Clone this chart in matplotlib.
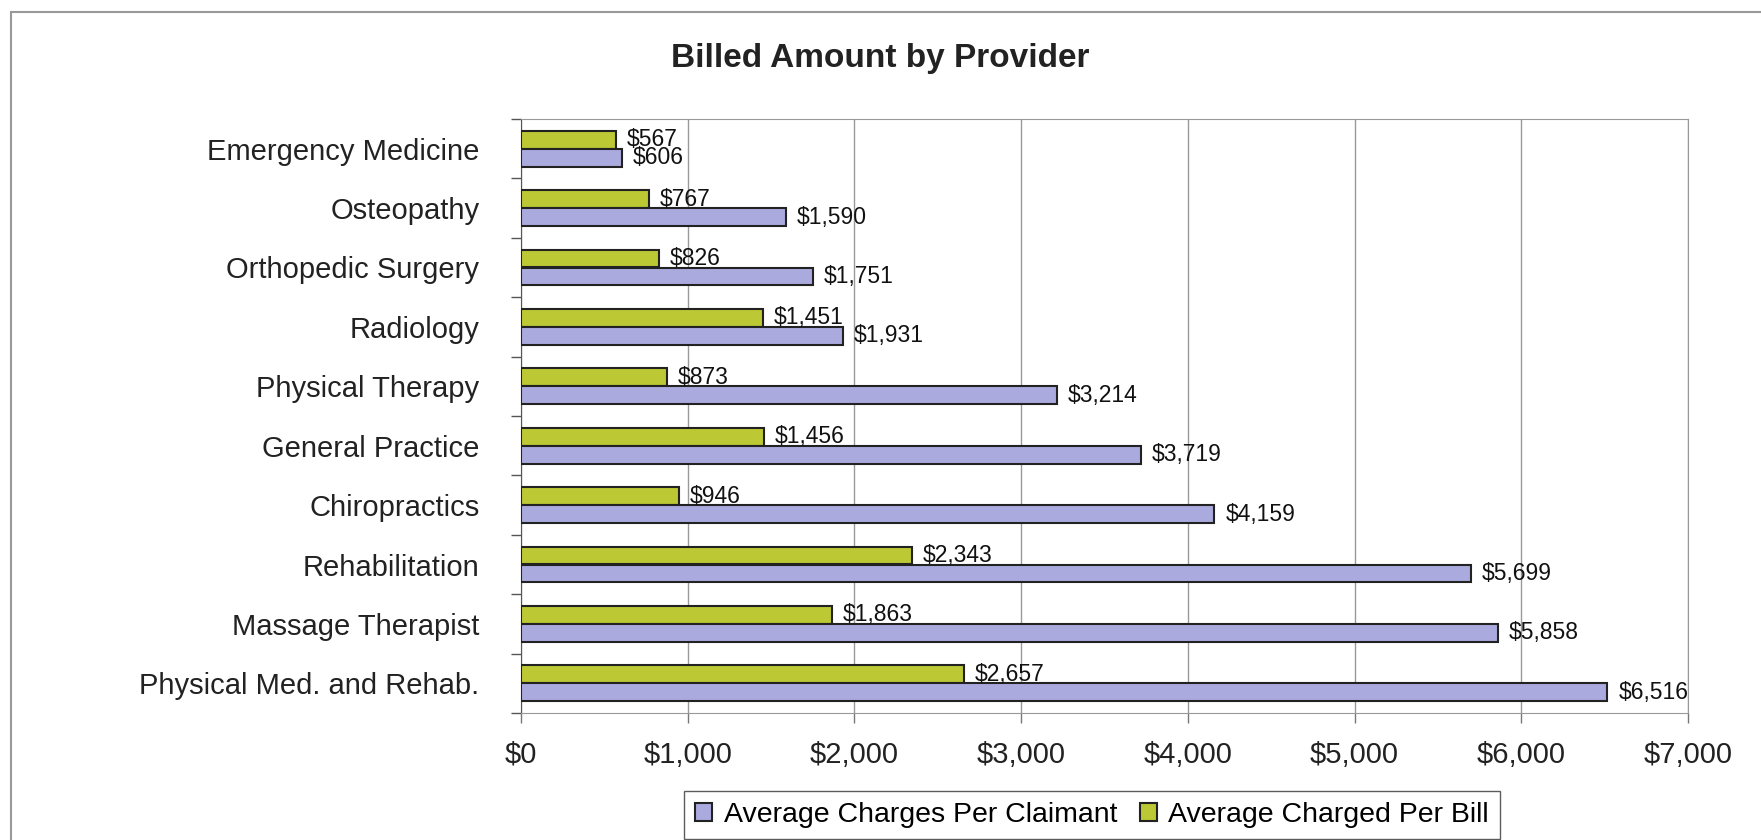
import matplotlib.pyplot as plt
from matplotlib.patches import Rectangle
import numpy as np

plt.rcParams['font.family'] = ['Liberation Sans', 'DejaVu Sans']

# providers, top to bottom as shown
providers = ['Emergency Medicine', 'Osteopathy', 'Orthopedic Surgery', 'Radiology',
             'Physical Therapy', 'General Practice', 'Chiropractics', 'Rehabilitation',
             'Massage Therapist', 'Physical Med. and Rehab.']
per_claimant = [606, 1590, 1751, 1931, 3214, 3719, 4159, 5699, 5858, 6516]
per_bill = [567, 767, 826, 1451, 873, 1456, 946, 2343, 1863, 2657]
xticks = [0, 1000, 2000, 3000, 4000, 5000, 6000, 7000]

purple = '#aaaade'
green = '#bcc934'

fig = plt.figure(figsize=(17.61, 8.4), dpi=100)
ax = fig.add_axes([521 / 1761, 1 - 713 / 840, 1167 / 1761, 594 / 840])

y = np.arange(len(providers))
h = 0.3
b1 = ax.barh(y - h / 2, per_bill, height=h, color=green, edgecolor='#222222', linewidth=1.5,
             label='Average Charged Per Bill', zorder=3)
b2 = ax.barh(y + h / 2, per_claimant, height=h, color=purple, edgecolor='#222222', linewidth=1.5,
             label='Average Charges Per Claimant', zorder=3)

ax.bar_label(b1, labels=['$' + format(v, ',') for v in per_bill], padding=8, fontsize=16.5, color='#111111')
ax.bar_label(b2, labels=['$' + format(v, ',') for v in per_claimant], padding=8, fontsize=16.5, color='#111111')

ax.set_xlim(0, 7000)
ax.set_ylim(len(providers) - 0.5, -0.5)
ax.set_xticks(xticks)
ax.set_xticklabels(['$' + format(v, ',') for v in xticks], fontsize=21, color='#222222')
ax.set_yticks(y)
ax.set_yticklabels(providers, fontsize=21, color='#222222')
ax.set_yticks(np.arange(len(providers) + 1) - 0.5, minor=True)
ax.tick_params(axis='y', which='major', length=0, pad=30)
ax.tick_params(axis='y', which='minor', length=7, width=1, color='#555555', direction='out')
ax.tick_params(axis='x', length=7, width=1, color='#777777', pad=13)

ax.grid(axis='x', color='#999999', linewidth=1, zorder=0)
for side in ['top', 'right', 'bottom']:
    ax.spines[side].set_color('#999999')
ax.spines['left'].set_color('#555555')

fig.text(880 / 1761, 1 - 58 / 840, 'Billed Amount by Provider', ha='center', va='center',
         fontsize=24, fontweight='bold', color='#222222')

handles = [b2, b1]
leg = fig.legend(handles, [hd.get_label() for hd in handles], loc='center',
                 bbox_to_anchor=(1092 / 1761, 1 - 815 / 840), ncol=2, fontsize=20.5,
                 frameon=True, fancybox=False, edgecolor='#333333', handlelength=0.6,
                 handleheight=0.6, handletextpad=0.4, columnspacing=0.8, borderpad=0.4)
leg.get_frame().set_linewidth(1)

# outer chart border (right and bottom edges fall outside the picture)
fig.patches.append(Rectangle((11 / 1761, -0.05), 1.0, 1.05 - 12 / 840,
                             transform=fig.transFigure, fill=False, edgecolor='#999999', linewidth=1.5))

fig.savefig('out.png', dpi=100)
